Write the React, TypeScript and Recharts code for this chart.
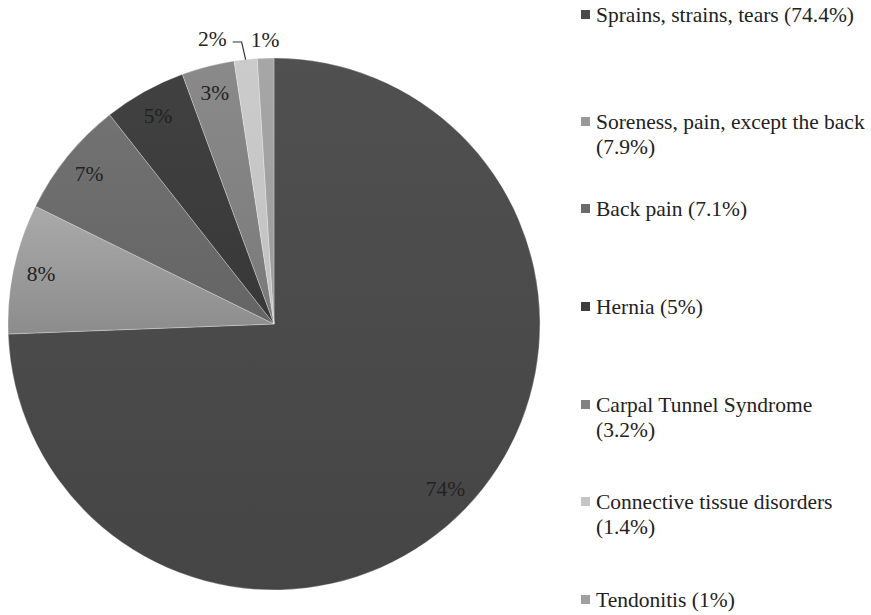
import { PieChart, Pie, Cell, Legend } from 'recharts';

const categories = [
  'Sprains, strains, tears',
  'Soreness, pain, except the back',
  'Back pain',
  'Hernia',
  'Carpal Tunnel Syndrome',
  'Connective tissue disorders',
  'Tendonitis',
];
const shares = [74.4, 7.9, 7.1, 5, 3.2, 1.4, 1];
const sliceLabels = ['74%', '8%', '7%', '5%', '3%', '2%', '1%'];

const data = categories.map((name, i) => ({ name, value: shares[i] }));

// top / bottom shade of each slice
const SHADES: [string, string][] = [
  ['#505050', '#454545'],
  ['#aaaaaa', '#8c8c8c'],
  ['#727272', '#646464'],
  ['#414141', '#383838'],
  ['#8a8a8a', '#7a7a7a'],
  ['#cbcbcb', '#c2c2c2'],
  ['#a6a6a6', '#9c9c9c'],
];
const MARKER = ['#4a4a4a', '#999999', '#6a6a6a', '#3c3c3c', '#828282', '#c4c4c4', '#a0a0a0'];

const LEGEND_TOPS = [3, 110, 197, 295, 393, 490, 588];
const FONT = '"Liberation Serif", "Times New Roman", serif';
const RADIAN = Math.PI / 180;

function renderLabel(props: any) {
  const { cx, cy, midAngle, outerRadius, index, percent } = props;
  const text = sliceLabels[index];
  const style = { fontFamily: FONT, fontSize: 21.5, fill: '#222' };
  const cos = Math.cos(-midAngle * RADIAN);
  const sin = Math.sin(-midAngle * RADIAN);
  if (percent >= 0.02) {
    const r = outerRadius * 0.895;
    return (
      <text x={cx + r * cos} y={cy + r * sin} textAnchor="middle" dominantBaseline="central" {...style}>
        {text}
      </text>
    );
  }
  if (percent < 0.012) {
    const r = outerRadius + 18;
    return (
      <text x={cx + r * cos} y={cy + r * sin} textAnchor="middle" dominantBaseline="central" {...style}>
        {text}
      </text>
    );
  }
  // small slice next to another small one: pull the label aside with a leader
  const ex = cx + outerRadius * cos;
  const ey = cy + outerRadius * sin;
  const bx = ex - 4;
  const by = cy - outerRadius - 16;
  return (
    <g>
      <polyline points={`${ex},${ey} ${bx},${by} ${bx - 9},${by}`} fill="none" stroke="#333" strokeWidth={1.2} />
      <text x={bx - 15} y={by - 3} textAnchor="end" dominantBaseline="central" {...style}>
        {text}
      </text>
    </g>
  );
}

function renderLegend() {
  return (
    <div style={{ position: 'relative', width: 871, height: 615, fontFamily: FONT, fontSize: 21.5, lineHeight: '25px', color: '#222' }}>
      {categories.map((name, i) => (
        <div key={name} style={{ position: 'absolute', left: 581, top: LEGEND_TOPS[i], width: 290 }}>
          <span style={{ position: 'absolute', left: 0, top: 7, width: 9, height: 9, background: MARKER[i] }} />
          <div style={{ marginLeft: 15, width: 274, textAlign: 'left' }}>
            {name} ({shares[i]}%)
          </div>
        </div>
      ))}
    </div>
  );
}

export default function App() {
  return (
    <div style={{ position: 'absolute', left: 0, top: 0, width: 871, height: 615, background: '#fff' }}>
      <PieChart width={871} height={615} margin={{ top: 0, right: 0, bottom: 0, left: 0 }}>
        <defs>
          {SHADES.map(([top, bottom], i) => (
            <linearGradient key={i} id={`shade${i}`} x1="0" y1="0" x2="0" y2="1">
              <stop offset="0%" stopColor={top} />
              <stop offset="100%" stopColor={bottom} />
            </linearGradient>
          ))}
        </defs>
        <Pie
          data={data}
          dataKey="value"
          nameKey="name"
          cx={274}
          cy={324}
          outerRadius={266}
          startAngle={90}
          endAngle={-270}
          stroke="rgba(255,255,255,0.35)"
          strokeWidth={0.8}
          label={renderLabel}
          labelLine={false}
          isAnimationActive={false}
        >
          {data.map((d, i) => (
            <Cell key={d.name} fill={`url(#shade${i})`} />
          ))}
        </Pie>
        <Legend content={renderLegend} wrapperStyle={{ position: 'absolute', left: 0, top: 0, width: 871, height: 615 }} />
      </PieChart>
    </div>
  );
}
